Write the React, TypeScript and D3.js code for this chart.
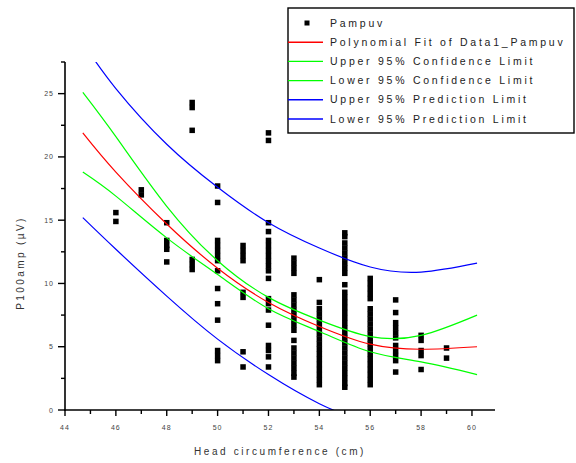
import React from "react";
import * as d3 from "d3";

// ---- data ----
const columnX = [46, 47, 48, 49, 50, 51, 52, 53, 54, 55, 56, 57, 58, 59];
const columnValues: number[][] = [
  [15.6, 14.9],
  [17.4, 17.0],
  [14.8, 13.4, 13.0, 12.7, 11.7],
  [24.3, 23.9, 22.1, 11.9, 11.5, 11.1],
  [17.7, 16.4, 13.4, 13.0, 12.6, 12.2, 11.8, 11.0, 9.6, 8.4, 7.1, 4.7, 4.3, 3.9],
  [13.0, 12.6, 12.2, 11.8, 9.3, 8.9, 4.6, 3.4],
  [21.9, 21.3, 14.8, 14.1, 13.4, 13.0, 12.6, 12.2, 11.8, 11.4, 11.0, 10.4, 8.8, 8.4, 7.9, 6.7, 5.1, 4.7, 4.2, 3.4],
  [12.0, 11.6, 11.2, 10.8, 9.1, 8.7, 8.3, 7.9, 7.5, 7.1, 6.7, 6.3, 5.5, 4.9, 4.5, 4.1, 3.7, 3.3, 2.9, 2.6],
  [10.3, 8.5, 8.0, 7.6, 7.2, 6.8, 6.4, 6.0, 5.6, 5.2, 4.8, 4.4, 4.0, 3.6, 3.2, 2.8, 2.4, 2.0],
  [14.0, 13.7, 13.2, 12.8, 12.4, 12.0, 11.6, 11.2, 10.8, 9.9, 9.3, 8.9, 8.5, 8.1, 7.7, 7.3, 6.9, 6.5, 6.1, 5.7, 5.3, 4.9, 4.5, 4.1, 3.7, 3.3, 2.9, 2.5, 2.1, 1.8],
  [10.4, 10.0, 9.6, 9.2, 8.8, 8.0, 7.6, 7.2, 6.8, 6.4, 6.0, 5.6, 5.2, 4.8, 4.4, 4.0, 3.6, 3.2, 2.8, 2.4, 2.0],
  [8.7, 7.7, 6.9, 6.5, 6.1, 5.7, 5.1, 4.7, 4.3, 3.9, 3.0],
  [5.9, 5.5, 4.7, 4.3, 3.2],
  [4.9, 4.1],
];

const curveX = [44.7, 46, 48, 50, 52, 54, 56, 58, 60.2];
const fitY = [21.9, 18.8, 14.7, 11.2, 8.5, 6.6, 5.2, 4.8, 5.0];
const upperConfY = [25.1, 21.6, 16.1, 11.8, 8.9, 7.1, 5.8, 5.9, 7.5];
const lowerConfY = [18.8, 16.9, 13.6, 10.7, 8.0, 6.2, 4.6, 3.8, 2.8];
const upperPredY = [29.0, 25.4, 21.0, 17.6, 14.8, 12.8, 11.3, 10.9, 11.6];
const lowerPredY = [15.2, 12.7, 9.0, 5.6, 2.8, 0.5, -1.0, -1.5, -1.6];

const xTicks = [44, 46, 48, 50, 52, 54, 56, 58, 60];
const xMinor = [45, 47, 49, 51, 53, 55, 57, 59];
const yTicks = [0, 5, 10, 15, 20, 25];
const yMinor = [2.5, 7.5, 12.5, 17.5, 22.5, 27.5];

const legendLabels = [
  "Pampuv",
  "Polynomial Fit of Data1_Pampuv",
  "Upper 95% Confidence Limit",
  "Lower 95% Confidence Limit",
  "Upper 95% Prediction Limit",
  "Lower 95% Prediction Limit",
];

export default function App() {
  const W = 576, H = 463;
  const x = d3.scaleLinear().domain([44, 61]).range([65, 497.4]);
  const y = d3.scaleLinear().domain([0, 27.5]).range([410, 62]);
  const font = "'Liberation Sans', Arial, sans-serif";

  const line = (ys: number[]) =>
    d3
      .line<number>()
      .x((_, i) => x(curveX[i]))
      .y((v) => y(v))
      .curve(d3.curveNatural)(ys) || "";

  const curves = [
    { ys: upperPredY, c: "#0000ff" },
    { ys: lowerPredY, c: "#0000ff" },
    { ys: upperConfY, c: "#00ff00" },
    { ys: lowerConfY, c: "#00ff00" },
    { ys: fitY, c: "#ff0000" },
  ];
  const legendColors = ["", "#ff0000", "#00ff00", "#00ff00", "#0000ff", "#0000ff"];

  const pts: { cx: number; cy: number }[] = [];
  columnX.forEach((cx, i) => columnValues[i].forEach((v) => pts.push({ cx, cy: v })));

  return (
    <svg width={W} height={H} style={{ position: "absolute", left: 0, top: 0, background: "#fff" }}>
      <defs>
        <clipPath id="plot">
          <rect x={65} y={62} width={432} height={348} />
        </clipPath>
      </defs>
      <g clipPath="url(#plot)">
        {pts.map((p, i) => (
          <rect key={i} x={x(p.cx) - 2.75} y={y(p.cy) - 2.75} width={5.5} height={5.5} fill="#000" />
        ))}
        {curves.map((c, i) => (
          <path key={i} d={line(c.ys)} fill="none" stroke={c.c} strokeWidth={1.2} />
        ))}
      </g>
      {/* axes */}
      <line x1={65} x2={65} y1={62} y2={411} stroke="#000" strokeWidth={1.6} />
      <line x1={64} x2={495} y1={410} y2={410} stroke="#000" strokeWidth={1.6} />
      {xTicks.map((t) => (
        <g key={"xt" + t}>
          <line x1={x(t)} x2={x(t)} y1={410} y2={416} stroke="#000" strokeWidth={1.4} />
          <text x={x(t)} y={430} fontSize={7} fontFamily={font} fill="#444" textAnchor="middle" letterSpacing={1}>
            {t}
          </text>
        </g>
      ))}
      {xMinor.map((t) => (
        <line key={"xm" + t} x1={x(t)} x2={x(t)} y1={410} y2={414} stroke="#000" strokeWidth={1.4} />
      ))}
      {yTicks.map((t) => (
        <g key={"yt" + t}>
          <line x1={58} x2={65} y1={y(t)} y2={y(t)} stroke="#000" strokeWidth={1.4} />
          <text x={54} y={y(t) + 2.5} fontSize={7} fontFamily={font} fill="#444" textAnchor="end" letterSpacing={1}>
            {t}
          </text>
        </g>
      ))}
      {yMinor.map((t) => (
        <line key={"ym" + t} x1={61} x2={65} y1={y(t)} y2={y(t)} stroke="#000" strokeWidth={1.4} />
      ))}
      <text x={280} y={455} fontSize={10} fontFamily={font} fill="#333" textAnchor="middle" letterSpacing={2.6}>
        Head circumference (cm)
      </text>
      <text
        transform="translate(24,263) rotate(-90)"
        fontSize={10}
        fontFamily={font}
        fill="#333"
        textAnchor="middle"
        letterSpacing={2.4}
      >
        P100amp (µV)
      </text>
      {/* legend */}
      <rect x={288} y={8} width={286} height={125} fill="#fff" stroke="#000" strokeWidth={1.4} />
      {legendLabels.map((l, i) => {
        const ly = 23 + i * 19.2;
        return (
          <g key={l}>
            {i === 0 ? (
              <rect x={304.5} y={ly - 2.5} width={5} height={5} fill="#000" />
            ) : (
              <line x1={288} x2={323} y1={ly} y2={ly} stroke={legendColors[i]} strokeWidth={1.4} />
            )}
            <text x={330} y={ly + 3.5} fontSize={10.5} fontFamily={font} fill="#222" letterSpacing={2.75}>
              {l}
            </text>
          </g>
        );
      })}
    </svg>
  );
}
